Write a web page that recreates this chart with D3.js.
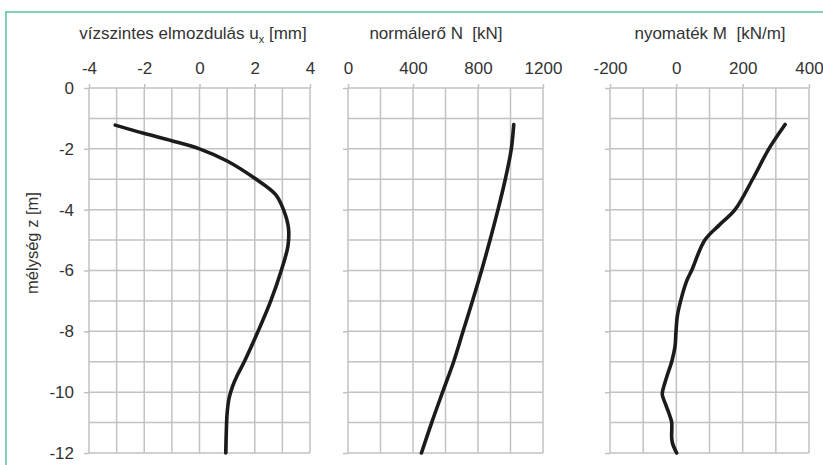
<!DOCTYPE html>
<html>
<head>
<meta charset="utf-8">
<script src="https://cdn.jsdelivr.net/npm/d3@7"></script>
<style>
	body { margin: 0; background: #fff; }
	svg { display: block; font-family: "Liberation Sans", Arial, sans-serif; }
	text { fill: #333; white-space: pre; }
</style>
</head>
<body>
<svg id="chart" width="823" height="465"></svg>
<script>

// depths [m] and values
var uxDepth = [-1.22, -1.49, -1.74, -2, -2.4, -2.97, -3.5, -4, -4.6, -5.2, -6, -7, -8, -9, -9.5, -9.8, -10.2, -10.7, -11.3, -12];
var uxVal   = [-3.05, -2.02, -0.98, 0, 1, 2, 2.75, 3.04, 3.22, 3.2, 2.96, 2.58, 2.12, 1.62, 1.34, 1.2, 1.07, 1.0, 0.97, 0.95];

var nDepth = [-1.2, -2, -3, -4, -5, -6, -7, -8, -9, -10, -11, -12];
var nVal   = [1020, 1005, 968, 923, 874, 822, 766, 708, 650, 582, 515, 452];

var mDepth = [-1.2, -2, -3, -4, -4.5, -5, -6, -6.35, -7, -7.5, -8, -8.5, -9, -9.5, -10, -10.1, -10.5, -10.8, -11, -11.5, -11.7, -12];
var mVal   = [328, 279, 230, 177, 130, 86, 46, 31, 13, 3, -1, -4, -14, -29, -42, -42, -29, -19, -14, -14, -11, 1];

var depthTicks = [0, -2, -4, -6, -8, -10, -12];

var panels = [
	{ title: ["vízszintes elmozdulás u", "x", " [mm]"], tx: 193, dom: [-4, 4], rng: [89, 310], major: [-4, -2, 0, 2, 4], step: 1, depth: uxDepth, val: uxVal, curve: d3.curveCatmullRom.alpha(0.5) },
	{ title: ["normálerő N  [kN]"], tx: 436, dom: [0, 1200], rng: [348, 543], major: [0, 400, 800, 1200], step: 200, depth: nDepth, val: nVal, curve: d3.curveMonotoneY },
	{ title: ["nyomaték M  [kN/m]"], tx: 710, dom: [-200, 400], rng: [610, 809], major: [-200, 0, 200, 400], step: 100, depth: mDepth, val: mVal, curve: d3.curveCatmullRom.alpha(0.5) },
];

var svg = d3.select("#chart");
var gridcol = "#c2c2c6";

// green frame
svg.append("line").attr("x1", 5).attr("x2", 823).attr("y1", 12).attr("y2", 12)
	.attr("stroke", "#55c59a").attr("stroke-width", 1.5);
svg.append("line").attr("x1", 6).attr("x2", 6).attr("y1", 12).attr("y2", 465)
	.attr("stroke", "#55c59a").attr("stroke-width", 1.5);

var y = d3.scaleLinear([0, -12], [88, 453]);
var grid1m = d3.range(0, -12.5, -1);

panels.forEach( (p, i) => {

	var x = d3.scaleLinear(p.dom, p.rng);
	var g = svg.append("g");

	var xs = d3.range(p.dom[0], p.dom[1] + p.step / 2, p.step);

	g.selectAll(".vg").data(xs).join("line")
		.attr("x1", d => x(d)).attr("x2", d => x(d))
		.attr("y1", y(0)).attr("y2", y(-12))
		.attr("stroke", gridcol).attr("stroke-width", 1.5);

	g.selectAll(".hg").data(grid1m).join("line")
		.attr("x1", p.rng[0]).attr("x2", p.rng[1])
		.attr("y1", d => y(d)).attr("y2", d => y(d))
		.attr("stroke", gridcol).attr("stroke-width", 1.5);

	// top axis
	var xaxis = d3.axisTop(x).tickValues(p.major).tickSize(4).tickPadding(10).tickFormat(d => String(d));
	g.append("g").attr("transform", `translate(0,${y(0)})`).call(xaxis)
		.call(a => a.select(".domain").remove())
		.call(a => a.selectAll("line").attr("stroke", gridcol).attr("stroke-width", 1.5))
		.call(a => a.selectAll("text").attr("fill", "#333").style("font-size", "17px").attr("font-family", null));

	// left axis
	var yaxis = d3.axisLeft(y).tickValues(depthTicks).tickSize(5).tickPadding(10)
		.tickFormat(i === 0 ? (d => String(d)) : "");
	g.append("g").attr("transform", `translate(${p.rng[0]},0)`).call(yaxis)
		.call(a => a.select(".domain").remove())
		.call(a => a.selectAll("line").attr("stroke", gridcol).attr("stroke-width", 1.5))
		.call(a => a.selectAll("text").attr("fill", "#333").style("font-size", "17px").attr("font-family", null));

	// title
	var t = g.append("text")
		.attr("x", p.tx)
		.attr("y", 39)
		.attr("text-anchor", "middle")
		.style("font-size", "17px");
	t.append("tspan").text(p.title[0]);
	if(p.title.length > 1) {
		t.append("tspan").attr("dy", 4).style("font-size", "11px").text(p.title[1]);
		t.append("tspan").attr("dy", -4).text(p.title[2]);
	}

	// curve
	var data = p.depth.map( (d, k) => ({ z: d, v: p.val[k] }) );
	g.append("path")
		.attr("fill", "none")
		.attr("stroke", "#1b1b1b")
		.attr("stroke-width", 3.6)
		.attr("stroke-linecap", "round")
		.attr("stroke-linejoin", "round")
		.attr("d", d3.line(d => x(d.v), d => y(d.z)).curve(p.curve)(data));

});

svg.append("text")
	.attr("transform", "translate(38,243) rotate(-90)")
	.attr("text-anchor", "middle")
	.style("font-size", "16.5px")
	.text("mélység z [m]");

</script>
</body>
</html>
